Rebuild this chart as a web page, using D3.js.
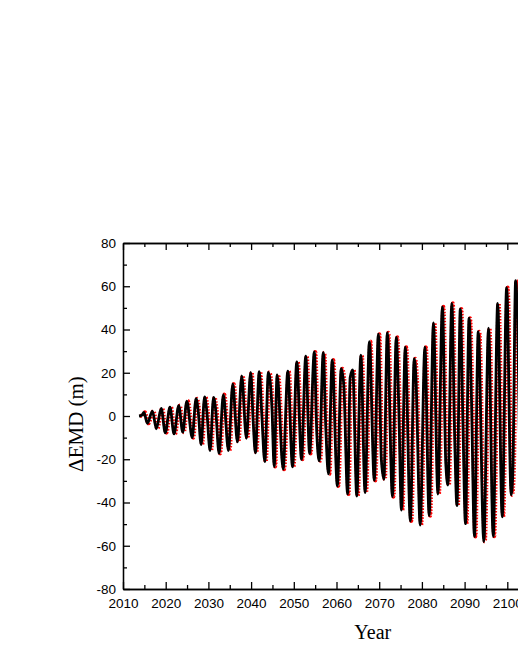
<!DOCTYPE html>
<html>
<head>
<meta charset="utf-8">
<script src="https://cdn.jsdelivr.net/npm/d3@7"></script>
<style>
  body { margin: 0; background: #fff; }
  .tick text { font-family: 'Liberation Sans', Arial, sans-serif; font-size: 13.5px; fill: #000; }
  .axis path, .axis line { stroke: #000; stroke-width: 1.3; }
  .title { font-family: 'Liberation Serif', 'Times New Roman', serif; fill: #000; }
</style>
</head>
<body>
<svg id="chart" width="518" height="670"></svg>
<script>
// time (year) and EMD change (m) at peaks, troughs and shoulders
var years = [
    2013.75, 2014.4, 2014.9, 2015.7, 2016.9, 2017.8, 2018.95, 2019.9, 2021.0, 2021.95,
    2023.05, 2024.0, 2024.95, 2026.2, 2027.1, 2027.6, 2028.3, 2029.1, 2029.6, 2030.4,
    2031.2, 2031.7, 2032.5, 2033.5, 2034.7, 2035.7, 2036.8, 2037.8, 2038.9, 2039.9,
    2040.5, 2041.0, 2041.9, 2042.5, 2043.2, 2044.05, 2044.9, 2045.4, 2046.1, 2047.5,
    2048.6, 2049.7, 2050.7, 2051.8, 2052.8, 2053.7, 2054.8, 2055.4, 2055.95, 2056.9,
    2057.5, 2058.1, 2059.0, 2060.2, 2061.1, 2061.7, 2062.6, 2063.2, 2063.8, 2064.75,
    2065.7, 2066.7, 2067.7, 2068.85, 2069.8, 2070.5, 2071.1, 2071.9, 2073.1, 2074.0,
    2074.6, 2075.2, 2076.1, 2077.3, 2078.2, 2078.6, 2079.6, 2080.7, 2081.7, 2082.7,
    2083.75, 2084.8, 2085.6, 2086.1, 2087.0, 2087.7, 2088.2, 2089.0, 2089.6, 2090.2,
    2091.05, 2091.6, 2092.3, 2093.2, 2094.5, 2095.6, 2096.7, 2097.75, 2098.8, 2099.85,
    2100.9, 2101.3, 2101.95, 2103.0
]
var emdModel = [
    0, 0.3, 1.7, -3.4, 2.3, -5.9, 3.5, -7.8, 4.1, -8.3,
    4.8, -7.5, 6.9, -10.0, 8.0, 2.5, -13.2, 8.8, 2.8, -16.0,
    8.6, 3.0, -17.3, 9.9, -16.0, 14.8, -12.0, 18.6, -10.3, 20.2,
    -3.0, -17.0, 20.5, 1.0, -21.1, 20.2, 3.0, -23.4, 19.0, -24.6,
    20.7, -23.5, 25.0, -20.0, 27.7, -17.3, 29.6, -8.5, -20.7, 29.3,
    -5.7, -26.8, 25.9, -32.4, 21.9, 14.5, -36.1, 17.8, 21.3, -37.0,
    28.1, -35.4, 34.4, -29.8, 37.8, -20.0, -29.3, 38.5, -37.3, 36.4,
    3.0, -43.5, 31.8, -48.6, 26.5, 18.0, -50.4, 31.8, -46.1, 43.1,
    -36.1, 50.5, -22.0, -31.9, 52.1, -12.0, -41.4, 49.5, -2.0, -49.8,
    45.2, 9.0, -55.7, 39.0, -58.1, 40.6, -55.6, 52.1, -46.6, 59.4,
    -36.5, -26.0, 62.6, -30.0
]
// the dotted red series lies on top of the model curve in the figure
var emdObserved = emdModel

var xTicks = [2010, 2020, 2030, 2040, 2050, 2060, 2070, 2080, 2090, 2100, 2110]
var xMinor = [2015, 2025, 2035, 2045, 2055, 2065, 2075, 2085, 2095, 2105]
var yTicks = [-80, -60, -40, -20, 0, 20, 40, 60, 80]
var yMinor = [-70, -50, -30, -10, 10, 30, 50, 70]

var svg = d3.select('#chart')
var plotLeft = 123, plotTop = 243, plotRight = 550, plotBottom = 589

var x = d3.scaleLinear().domain([2010, 2110]).range([plotLeft, plotRight])
var y = d3.scaleLinear().domain([-80, 80]).range([plotBottom, plotTop])

var plainNumber = function (d) { return String(d) }

svg.append('clipPath').attr('id', 'plotClip')
    .append('rect')
    .attr('x', plotLeft).attr('y', plotTop)
    .attr('width', plotRight - plotLeft).attr('height', plotBottom - plotTop)

var line = d3.line()
    .x(function (d) { return x(d[0]) })
    .y(function (d) { return y(d[1]) })
    .curve(d3.curveMonotoneX)

var plot = svg.append('g').attr('clip-path', 'url(#plotClip)')

plot.append('path')
    .datum(d3.zip(years, emdObserved))
    .attr('d', line)
    .attr('transform', 'translate(1,0)')
    .style('fill', 'none')
    .style('stroke', '#ff0000')
    .style('stroke-width', 4)
    .style('stroke-dasharray', '1.5,1.5')

plot.append('path')
    .datum(d3.zip(years, emdModel))
    .attr('d', line)
    .style('fill', 'none')
    .style('stroke', '#000')
    .style('stroke-width', 2.8)
    .style('stroke-linejoin', 'round')

// axes, ticks pointing inwards
svg.append('g').attr('class', 'axis')
    .attr('transform', 'translate(0,' + plotBottom + ')')
    .call(d3.axisBottom(x).tickValues(xTicks).tickFormat(plainNumber)
        .tickSize(-7).tickSizeOuter(0).tickPadding(9))
svg.append('g').attr('class', 'axis')
    .attr('transform', 'translate(0,' + plotBottom + ')')
    .call(d3.axisBottom(x).tickValues(xMinor).tickFormat('').tickSize(-4).tickSizeOuter(0))

svg.append('g').attr('class', 'axis')
    .attr('transform', 'translate(0,' + plotTop + ')')
    .call(d3.axisTop(x).tickValues(xTicks).tickFormat('').tickSize(-7).tickSizeOuter(0))
svg.append('g').attr('class', 'axis')
    .attr('transform', 'translate(0,' + plotTop + ')')
    .call(d3.axisTop(x).tickValues(xMinor).tickFormat('').tickSize(-4).tickSizeOuter(0))

svg.append('g').attr('class', 'axis')
    .attr('transform', 'translate(' + plotLeft + ',0)')
    .call(d3.axisLeft(y).tickValues(yTicks).tickFormat(plainNumber)
        .tickSize(-7).tickSizeOuter(0).tickPadding(7))
svg.append('g').attr('class', 'axis')
    .attr('transform', 'translate(' + plotLeft + ',0)')
    .call(d3.axisLeft(y).tickValues(yMinor).tickFormat('').tickSize(-4).tickSizeOuter(0))

svg.append('g').attr('class', 'axis')
    .attr('transform', 'translate(' + plotRight + ',0)')
    .call(d3.axisRight(y).tickValues(yTicks).tickFormat('').tickSize(-7).tickSizeOuter(0))

svg.append('text')
    .attr('class', 'title')
    .attr('x', x(2068.5))
    .attr('y', 639)
    .attr('text-anchor', 'middle')
    .style('font-size', '20px')
    .text('Year')

svg.append('text')
    .attr('class', 'title')
    .attr('transform', 'translate(83,424) rotate(-90)')
    .attr('text-anchor', 'middle')
    .style('font-size', '21px')
    .text('ΔEMD (m)')
</script>
</body>
</html>
